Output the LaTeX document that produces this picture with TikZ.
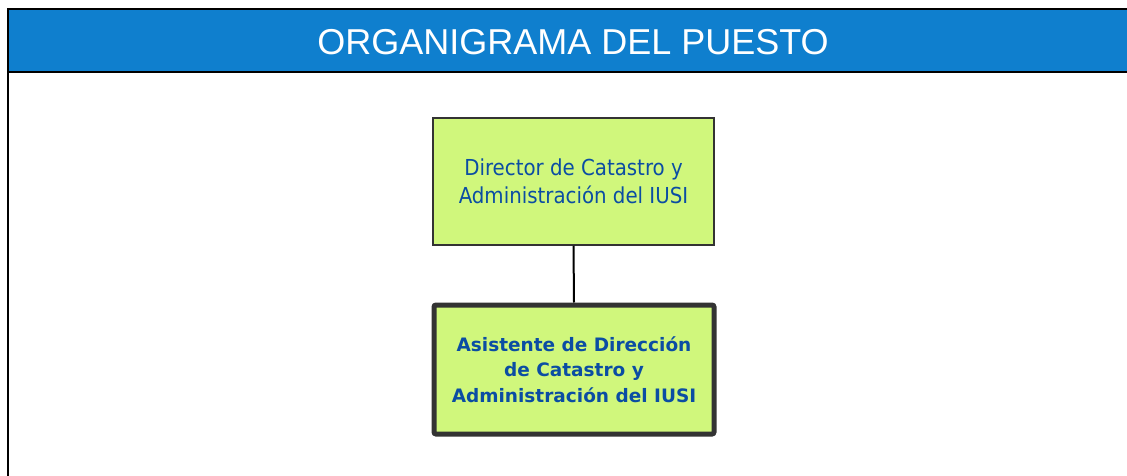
\documentclass[tikz,border=0pt]{standalone}
\usepackage{fontspec}
\setmainfont{Liberation Sans}
\newfontfamily\boxfont{DejaVu Sans Condensed}
\newfontfamily\boxboldfont{DejaVu Sans}
\definecolor{hdrblue}{HTML}{0F7FCE}
\definecolor{boxgreen}{HTML}{D0F77C}
\definecolor{txtblue}{HTML}{0B4DA3}
\definecolor{edgegray}{HTML}{333333}
\tikzset{
  posbox/.style={draw=edgegray, fill=boxgreen, text=txtblue, align=center, inner sep=0pt, font=\boxfont},
  headerframe/.style={fill=hdrblue, draw=black, line width=2pt},
}
\begin{document}
\begin{tikzpicture}[x=1pt,y=-1pt]
\useasboundingbox (0,0) rectangle (1127,476);
% outer frame
\draw[line width=2pt] (8,480) -- (8,9) -- (1135,9);
\path[headerframe] (8,9) rectangle (1135,72);
\node[text=white, font=\fontsize{36}{40}\selectfont] (title) at (573,42) {ORGANIGRAMA DEL PUESTO};
% boxes
\node[posbox, line width=1.5pt, minimum width=281pt, minimum height=127pt,
      font=\boxfont\fontsize{22}{28}\selectfont] (dir) at (573.5,181.5)
  {Director de Catastro y\\Administración del IUSI};
\node[posbox, line width=5pt, rounded corners=2pt, minimum width=280pt, minimum height=129pt,
      font=\boxboldfont\bfseries\fontsize{18.5}{25.5}\selectfont] (asis) at (574,369.5)
  {Asistente de Dirección\\de Catastro y\\Administración del IUSI};
\draw[line width=2pt] (dir.south) -- (asis.north);
\end{tikzpicture}
\end{document}
